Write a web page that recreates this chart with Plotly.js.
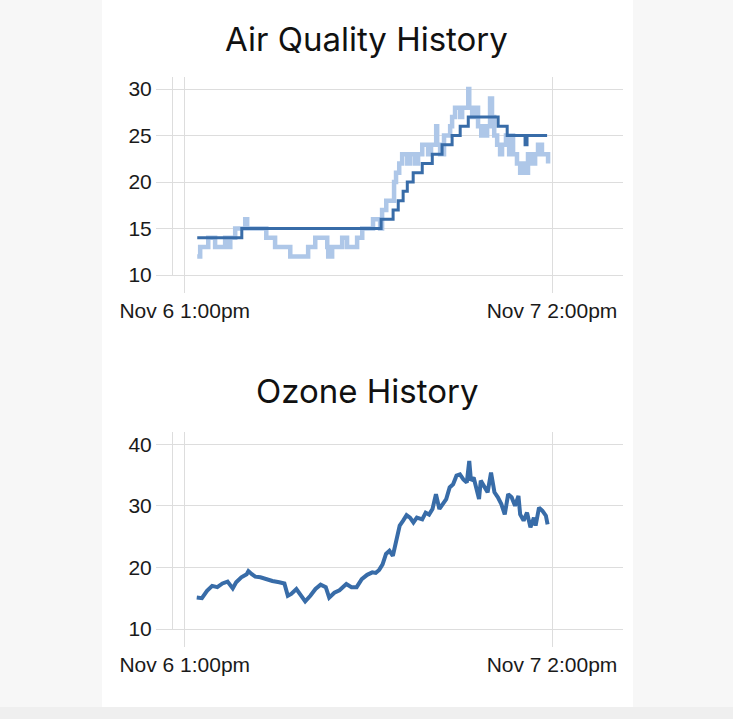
<!DOCTYPE html>
<html>
<head>
<meta charset="utf-8">
<script src="https://cdn.plot.ly/plotly-3.0.1.min.js"></script>
<style>
  html, body { margin: 0; padding: 0; width: 733px; height: 719px; overflow: hidden; background: #f7f7f7; }
  #card { position: absolute; left: 102px; top: 0; width: 531px; height: 707px; background: #ffffff; }
  #band { position: absolute; left: 0; top: 707px; width: 733px; height: 12px; background: #efefef; }
  #chart { position: absolute; left: 0; top: 0; width: 733px; height: 719px; }
</style>
</head>
<body>
<div id="card"></div>
<div id="band"></div>
<div id="chart"></div>
<script>
// ---- Air quality: raw readings (light) ----
const aqRawTimes = [
  "2023-11-06 13:51","2023-11-06 14:03","2023-11-06 14:36","2023-11-06 15:04","2023-11-06 15:45",
  "2023-11-06 15:58","2023-11-06 16:06","2023-11-06 16:26","2023-11-06 17:07","2023-11-06 17:15",
  "2023-11-06 18:33","2023-11-06 19:09","2023-11-06 20:11","2023-11-06 21:24","2023-11-06 21:53",
  "2023-11-06 22:42","2023-11-06 22:46","2023-11-06 23:02","2023-11-06 23:43","2023-11-07 00:03",
  "2023-11-07 00:44","2023-11-07 01:05","2023-11-07 01:49","2023-11-07 02:18","2023-11-07 02:26",
  "2023-11-07 02:43","2023-11-07 03:15","2023-11-07 03:23","2023-11-07 03:36","2023-11-07 03:48",
  "2023-11-07 04:09","2023-11-07 04:21","2023-11-07 04:41","2023-11-07 04:53","2023-11-07 05:10",
  "2023-11-07 05:34","2023-11-07 05:46","2023-11-07 06:07","2023-11-07 06:11","2023-11-07 06:23",
  "2023-11-07 06:39","2023-11-07 07:04","2023-11-07 07:12","2023-11-07 07:24","2023-11-07 07:45",
  "2023-11-07 07:53","2023-11-07 08:18","2023-11-07 08:22","2023-11-07 08:34","2023-11-07 08:46",
  "2023-11-07 08:58","2023-11-07 09:11","2023-11-07 09:19","2023-11-07 09:27","2023-11-07 09:35",
  "2023-11-07 09:47","2023-11-07 09:55","2023-11-07 10:04","2023-11-07 10:16","2023-11-07 10:28",
  "2023-11-07 10:36","2023-11-07 10:52","2023-11-07 11:05","2023-11-07 11:13","2023-11-07 11:21",
  "2023-11-07 11:37","2023-11-07 11:50","2023-11-07 11:58","2023-11-07 12:10","2023-11-07 12:22",
  "2023-11-07 12:35","2023-11-07 12:51","2023-11-07 13:03","2023-11-07 13:19","2023-11-07 13:32",
  "2023-11-07 13:44"
];
const aqRawValues = [
  12,13,14,13,14, 13,14,15,16,15, 14,13,12,13,14, 13,12,13,14,13,
  14,15,16,15,17, 18,20,21,22,23, 22,23,22,23,24, 23,24,26,24,23,
  25,26,27,28,27, 28,30,28,27,28, 26,25,26,25,26, 29,27,25,24,23,
  24,25,23,25,23, 22,21,22,21,23, 22,23,24,23,23, 22
];

// ---- Air quality: averaged (dark) ----
const aqAvgTimes = [
  "2023-11-06 13:51","2023-11-06 16:53","2023-11-07 02:22","2023-11-07 03:11","2023-11-07 03:32",
  "2023-11-07 03:52","2023-11-07 04:09","2023-11-07 04:33","2023-11-07 05:10","2023-11-07 05:51",
  "2023-11-07 06:31","2023-11-07 07:12","2023-11-07 07:45","2023-11-07 08:18","2023-11-07 10:20",
  "2023-11-07 10:57","2023-11-07 12:10","2023-11-07 12:18","2023-11-07 13:40"
];
const aqAvgValues = [14,15,16,17,18, 19,20,21,22,23, 24,25,26,27,26, 25,24,25,25];

// ---- Ozone ----
const ozTimes = [
  "2023-11-06 13:49","2023-11-06 14:10","2023-11-06 14:31","2023-11-06 14:52","2023-11-06 15:13",
  "2023-11-06 15:34","2023-11-06 15:55","2023-11-06 16:16","2023-11-06 16:30","2023-11-06 16:51",
  "2023-11-06 17:13","2023-11-06 17:20","2023-11-06 17:34","2023-11-06 17:48","2023-11-06 18:09",
  "2023-11-06 18:30","2023-11-06 18:58","2023-11-06 19:26","2023-11-06 19:47","2023-11-06 20:01",
  "2023-11-06 20:15","2023-11-06 20:36","2023-11-06 20:50","2023-11-06 21:12","2023-11-06 21:33",
  "2023-11-06 21:54","2023-11-06 22:15","2023-11-06 22:36","2023-11-06 22:50","2023-11-06 23:11",
  "2023-11-06 23:32","2023-11-06 23:46","2023-11-07 00:00","2023-11-07 00:21","2023-11-07 00:42",
  "2023-11-07 01:03","2023-11-07 01:25","2023-11-07 01:46","2023-11-07 02:00","2023-11-07 02:14",
  "2023-11-07 02:28","2023-11-07 02:42","2023-11-07 02:56","2023-11-07 03:10","2023-11-07 03:24",
  "2023-11-07 03:38","2023-11-07 03:52","2023-11-07 04:06","2023-11-07 04:20","2023-11-07 04:34",
  "2023-11-07 04:48","2023-11-07 05:10","2023-11-07 05:24","2023-11-07 05:38","2023-11-07 05:52",
  "2023-11-07 06:06","2023-11-07 06:20","2023-11-07 06:34","2023-11-07 06:48","2023-11-07 07:02",
  "2023-11-07 07:16","2023-11-07 07:30","2023-11-07 07:44","2023-11-07 07:58","2023-11-07 08:12",
  "2023-11-07 08:22","2023-11-07 08:29","2023-11-07 08:40","2023-11-07 08:55","2023-11-07 09:02",
  "2023-11-07 09:09","2023-11-07 09:23","2023-11-07 09:37","2023-11-07 09:51","2023-11-07 09:58",
  "2023-11-07 10:05","2023-11-07 10:19","2023-11-07 10:33","2023-11-07 10:47","2023-11-07 11:01",
  "2023-11-07 11:15","2023-11-07 11:29","2023-11-07 11:43","2023-11-07 11:50","2023-11-07 12:04",
  "2023-11-07 12:18","2023-11-07 12:32","2023-11-07 12:46","2023-11-07 12:53","2023-11-07 13:07",
  "2023-11-07 13:21","2023-11-07 13:35","2023-11-07 13:42"
];
const ozValues = [
  15.1,15.0,16.2,17.0,16.8, 17.4,17.7,16.6,17.6,18.4, 18.9,19.4,18.9,18.5,18.4,
  18.1,17.8,17.6,17.4,15.4, 15.7,16.5,15.7,14.5,15.4, 16.5,17.2,16.8,15.1,15.9,
  16.3,16.9,17.3,16.8,16.8, 18.1,18.8,19.2,19.1,19.6, 20.5,22.2,22.7,21.9,24.3,
  26.8,27.6,28.5,28.1,27.3, 28.1,27.8,28.9,28.6,29.5, 31.9,29.5,30.3,31.1,33.0,
  33.5,34.9,35.1,34.3,33.8, 37.3,34.1,34.6,32.2,31.1, 34.1,33.0,32.2,35.4,34.1,
  32.2,31.4,30.3,28.6,31.9, 31.4,30.0,31.6,28.6,27.6, 28.9,26.5,28.1,26.8,29.7,
  29.2,28.4,27.0
];

// ---- Axes text ----
const xTickVals = ["2023-11-06 13:00", "2023-11-07 14:00"];
const xTickText = ["Nov 6 1:00pm", "Nov 7 2:00pm"];
const xRange = ["2023-11-06 12:12", "2023-11-07 18:50"];
const aqTicks = [10, 15, 20, 25, 30];
const ozTicks = [10, 20, 30, 40];
const titles = ["Air Quality History", "Ozone History"];

const dark = "rgb(56,108,168)";
const light = "#aec7e8";
const grid = "#dddddd";
const tickFont = { family: "Liberation Sans, Arial, sans-serif", size: 21, color: "#1a1a1a" };

const traces = [
  { x: aqRawTimes, y: aqRawValues, type: "scatter", mode: "lines", line: { color: light, width: 4.5, shape: "hv" }, xaxis: "x", yaxis: "y", hoverinfo: "skip" },
  { x: aqAvgTimes, y: aqAvgValues, type: "scatter", mode: "lines", line: { color: dark, width: 3, shape: "hv" }, xaxis: "x", yaxis: "y", hoverinfo: "skip" },
  { x: ozTimes, y: ozValues, type: "scatter", mode: "lines", line: { color: dark, width: 4 }, xaxis: "x2", yaxis: "y2", hoverinfo: "skip" }
];

function xAxis(anchor) {
  return {
    anchor: anchor, type: "date", range: xRange, tickmode: "array", tickvals: xTickVals, ticktext: xTickText,
    showgrid: true, gridcolor: grid, gridwidth: 1, ticks: "outside", ticklen: 17, tickcolor: grid, tickwidth: 1,
    showline: true, linecolor: grid, linewidth: 1, zeroline: false, tickfont: tickFont, fixedrange: true
  };
}
function yAxis(anchor, domain, range, ticks) {
  return {
    anchor: anchor, domain: domain, range: range, tickmode: "array", tickvals: ticks,
    showgrid: true, gridcolor: grid, gridwidth: 1, ticks: "outside", ticklen: 16, tickcolor: grid, tickwidth: 1,
    showline: true, linecolor: grid, linewidth: 1, zeroline: false, tickfont: tickFont, fixedrange: true
  };
}

const titleFont = { family: "Inter, Liberation Sans, sans-serif", size: 33, color: "#111111" };
const layout = {
  width: 733, height: 719,
  margin: { l: 173, r: 110, t: 77, b: 90, pad: 0 },
  paper_bgcolor: "rgba(0,0,0,0)", plot_bgcolor: "rgba(0,0,0,0)",
  showlegend: false,
  xaxis: xAxis("y"),
  yaxis: yAxis("x", [0.6413, 1], [10, 31.3], aqTicks),
  xaxis2: xAxis("y2"),
  yaxis2: yAxis("x2", [0, 0.3569], [10, 42], ozTicks),
  annotations: [
    { text: titles[0], xref: "paper", yref: "paper", x: 0.4304, y: 1.068, xanchor: "center", yanchor: "middle", showarrow: false, font: titleFont },
    { text: titles[1], xref: "paper", yref: "paper", x: 0.4304, y: 0.432, xanchor: "center", yanchor: "middle", showarrow: false, font: titleFont }
  ]
};

Plotly.newPlot("chart", traces, layout, { staticPlot: true, displayModeBar: false });
</script>
</body>
</html>
